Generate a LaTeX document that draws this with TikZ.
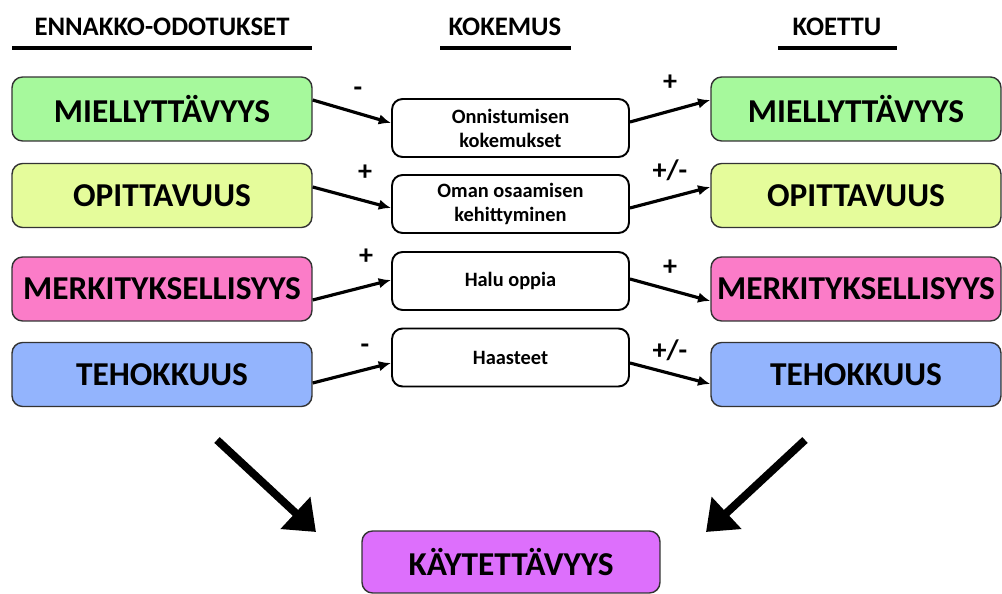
\documentclass[tikz,border=0pt]{standalone}
\usepackage{fontspec}
\setmainfont{Carlito}
\usetikzlibrary{arrows.meta}

\definecolor{vihrea}{HTML}{A6F99C}
\definecolor{keltainen}{HTML}{E5FC9B}
\definecolor{pinkki}{HTML}{FB7CC8}
\definecolor{sininen}{HTML}{93B4FD}
\definecolor{violetti}{HTML}{DD6FFC}

\begin{document}
\begin{tikzpicture}[x=0.02cm,y=-0.02cm,
  laatikko/.style={draw=black!80,rectangle,rounded corners=6pt,line width=0.8pt,minimum height=1.28cm,inner sep=1pt,font=\fontsize{19}{22}\selectfont\bfseries},
  kokemus/.style={draw,rectangle,rounded corners=6pt,line width=1.1pt,minimum width=4.74cm,minimum height=1.16cm,align=center,font=\fontsize{11.6}{13.6}\selectfont\bfseries},
  otsikko/.style={font=\fontsize{15.2}{17}\selectfont\bfseries},
  merkki/.style={font=\fontsize{16}{18}\selectfont\bfseries},
  nuoli/.style={line width=1.8pt,-{Latex[length=7pt,width=6pt]}},
  isonuoli/.style={line width=4.5pt,-{Triangle[length=16pt,width=24pt]}}]
  \useasboundingbox (0,0) rectangle (1002,594);

  % otsikot
  \node (h1) at (162,27) [otsikko] {ENNAKKO-ODOTUKSET};
  \node (h2) at (505,27) [otsikko] {KOKEMUS};
  \node (h3) at (837,27) [otsikko] {KOETTU};
  \draw[line width=2.8pt] (12,48) -- (312,48);
  \draw[line width=2.8pt] (440,48) -- (571,48);
  \draw[line width=2.8pt] (778,48) -- (897,48);

  % ennakko-odotukset
  \node (e1) at (162,109) [laatikko,fill=vihrea,minimum width=6cm] {MIELLYTTÄVYYS};
  \node (e2) at (162,195.5) [laatikko,fill=keltainen,minimum width=6cm] {OPITTAVUUS};
  \node (e3) at (162,289) [laatikko,fill=pinkki,minimum width=6cm] {MERKITYKSELLISYYS};
  \node (e4) at (162,374.5) [laatikko,fill=sininen,minimum width=6cm] {TEHOKKUUS};

  % kokemus
  \node (k1) at (510.5,128) [kokemus] {Onnistumisen\\kokemukset};
  \node (k2) at (510.5,204) [kokemus] {Oman osaamisen\\kehittyminen};
  \node (k3) at (510.5,281) [kokemus] {Halu oppia};
  \node (k4) at (510.5,357.5) [kokemus] {Haasteet};

  % koettu
  \node (t1) at (856,109) [laatikko,fill=vihrea,minimum width=5.8cm] {MIELLYTTÄVYYS};
  \node (t2) at (856,195.5) [laatikko,fill=keltainen,minimum width=5.8cm] {OPITTAVUUS};
  \node (t3) at (856,289) [laatikko,fill=pinkki,minimum width=5.8cm] {MERKITYKSELLISYYS};
  \node (t4) at (856,374.5) [laatikko,fill=sininen,minimum width=5.8cm] {TEHOKKUUS};

  \node (kt) at (511,562) [laatikko,fill=violetti,minimum width=5.96cm,minimum height=1.24cm] {KÄYTETTÄVYYS};

  \draw[nuoli] ([yshift=0.18cm]e1.east) to ([yshift=0.10cm]k1.west);
  \draw[nuoli] ([yshift=0.17cm]e2.east) to ([yshift=-0.08cm]k2.west);
  \draw[nuoli] ([yshift=-0.22cm]e3.east) to ([yshift=0.02cm]k3.west);
  \draw[nuoli] ([yshift=-0.17cm]e4.east) to ([yshift=-0.11cm]k4.west);

  \draw[nuoli] ([yshift=0.12cm]k1.east) to ([yshift=0.18cm]t1.west);
  \draw[nuoli] ([yshift=-0.08cm]k2.east) to ([yshift=0.17cm]t2.west);
  \draw[nuoli] ([yshift=0.04cm]k3.east) to ([yshift=-0.24cm]t3.west);
  \draw[nuoli] ([yshift=-0.11cm]k4.east) to ([yshift=-0.19cm]t4.west);

  \node (m1) at (358,92) [merkki] {-};
  \node (m2) at (365,173) [merkki] {+};
  \node (m3) at (366,257) [merkki] {+};
  \node (m4) at (365,349) [merkki] {-};
  \node (m5) at (670,83) [merkki] {+};
  \node (m6) at (670,170) [merkki] {+/-};
  \node (m7) at (670,268) [merkki] {+};
  \node (m8) at (670,350) [merkki] {+/-};

  \coordinate (a1) at (217,440);
  \coordinate (a2) at (316,532);
  \coordinate (a3) at (805,440);
  \coordinate (a4) at (706,532);
  \draw[isonuoli] (a1) to (a2);
  \draw[isonuoli] (a3) to (a4);
\end{tikzpicture}
\end{document}
